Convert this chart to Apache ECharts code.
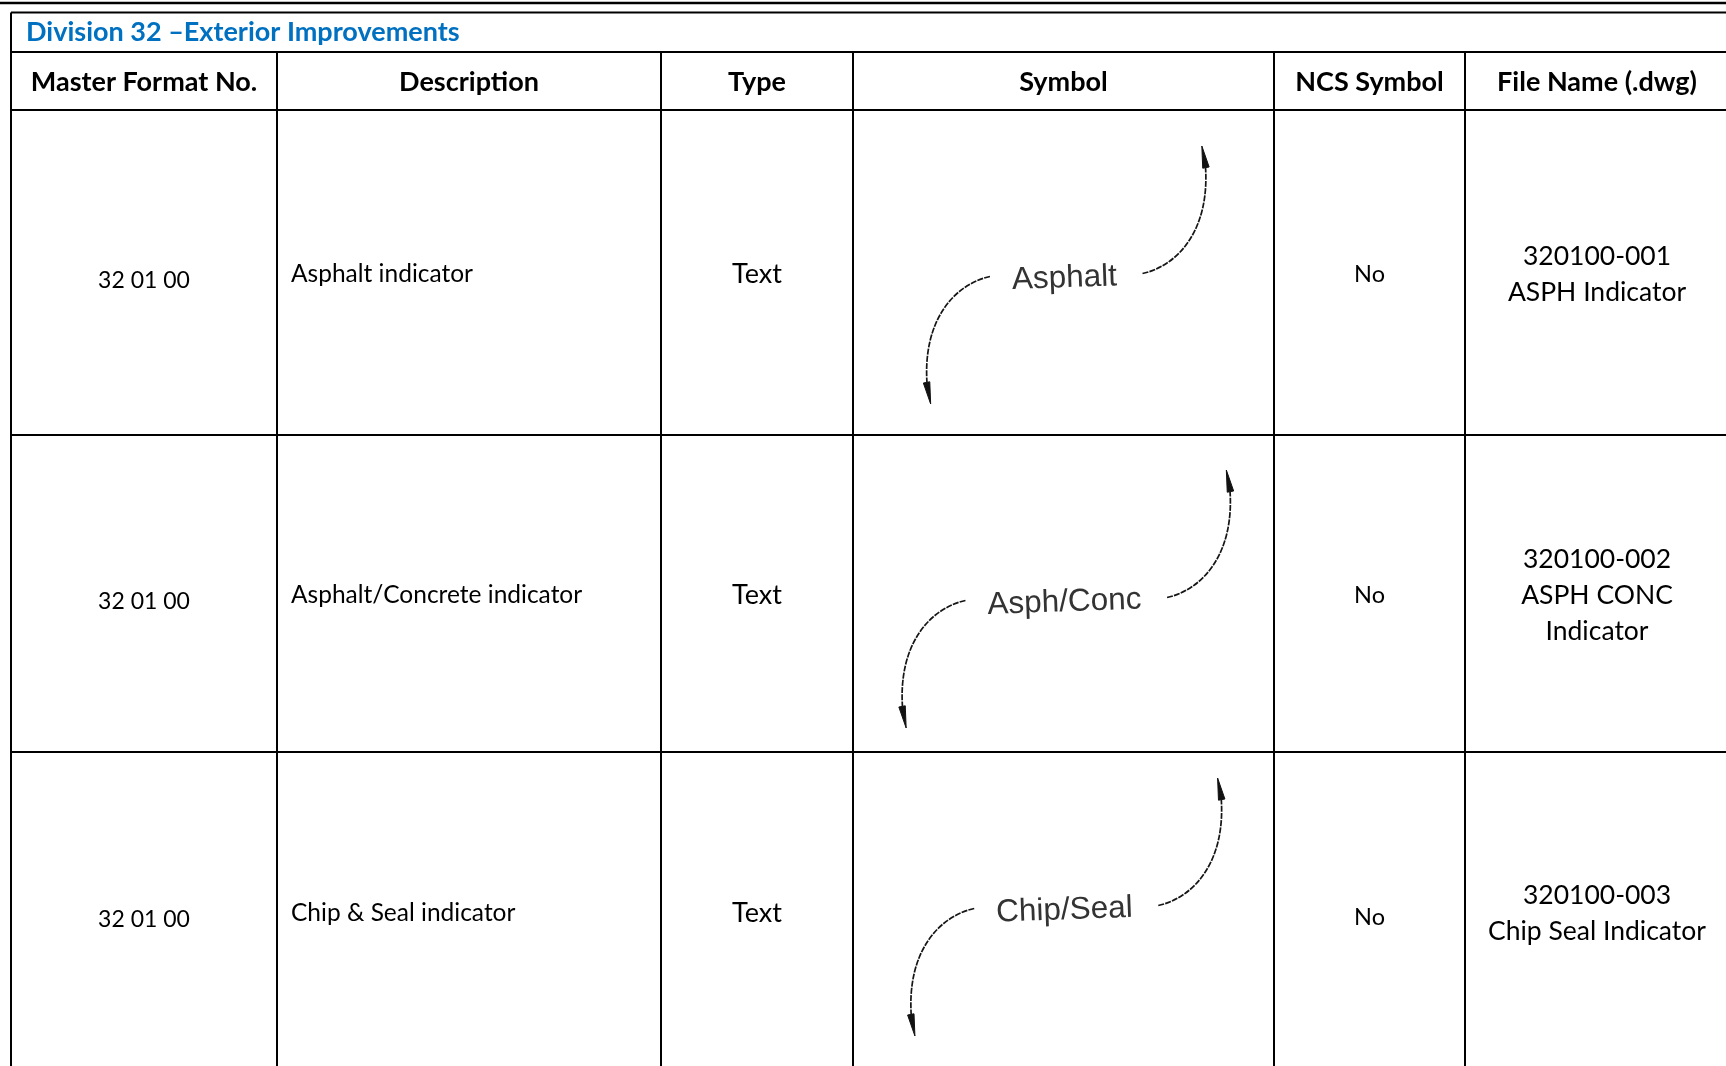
<!DOCTYPE html>
<html><head><meta charset="utf-8">
<script src="https://cdn.jsdelivr.net/npm/echarts@6/dist/echarts.min.js"></script>
<style>html,body{margin:0;padding:0;background:#fff;overflow:hidden}#c{width:1726px;height:1066px}</style>
</head><body><div id="c"></div>
<script>
// ---- table content ----
const title = 'Division 32 –Exterior Improvements';
const headers = ['Master Format No.', 'Description', 'Type', 'Symbol', 'NCS Symbol', 'File Name (.dwg)'];
const masterFormat = ['32 01 00', '32 01 00', '32 01 00'];
const descriptions = ['Asphalt indicator', 'Asphalt/Concrete indicator', 'Chip & Seal indicator'];
const types = ['Text', 'Text', 'Text'];
const symbolLabels = ['Asphalt', 'Asph/Conc', 'Chip/Seal'];
const ncsSymbol = ['No', 'No', 'No'];
const fileNames = [
  ['320100-001', 'ASPH Indicator'],
  ['320100-002', 'ASPH CONC', 'Indicator'],
  ['320100-003', 'Chip Seal Indicator']
];

// ---- layout (pixel units of the hidden axes) ----
const W = 1726, H = 1066;
const colEdges = [11, 277, 661, 853, 1274, 1465, 1729];
const rowEdges = [12.5, 52, 110, 435, 752, 1071];
const SANS = 'Lato, "Open Sans", sans-serif';
const ARIAL = '"Liberation Sans", Arial, sans-serif';
const symOffsetY = [6, 9, -1];

const chart = echarts.init(document.getElementById('c'), null, {renderer: 'canvas'});

// lines of the table
const lines = [];
lines.push([0, 3, W, 3, 2.5]);
lines.push([colEdges[0], rowEdges[0], colEdges[6], rowEdges[0], 2]);
for (let r = 1; r < rowEdges.length - 1; r++) lines.push([colEdges[0], rowEdges[r], colEdges[6], rowEdges[r], 2]);
lines.push([colEdges[0], rowEdges[0], colEdges[0], H + 10, 2]);
for (let c = 1; c < colEdges.length; c++) lines.push([colEdges[c], rowEdges[1], colEdges[c], H + 10, 2]);

// text cells
const cx = c => (colEdges[c] + colEdges[c + 1]) / 2;
const cy = r => (rowEdges[r + 2] + rowEdges[r + 3]) / 2;
const texts = [];
texts.push({x: 26, y: (rowEdges[0] + rowEdges[1]) / 2, text: title, font: 'bold 27px ' + SANS, color: '#0070C0', align: 'left'});
headers.forEach((h, i) => texts.push({x: cx(i), y: (rowEdges[1] + rowEdges[2]) / 2 + 1, text: h, font: 'bold 27px ' + SANS, color: '#000', align: 'center'}));
for (let r = 0; r < 3; r++) {
  texts.push({x: cx(0), y: cy(r) + 8, text: masterFormat[r], font: '23px ' + SANS, color: '#000', align: 'center'});
  texts.push({x: 291, y: cy(r) + 2, text: descriptions[r], font: '24.5px ' + SANS, color: '#000', align: 'left'});
  texts.push({x: cx(2), y: cy(r) + 2, text: types[r], font: '27px ' + SANS, color: '#000', align: 'center'});
  texts.push({x: cx(4), y: cy(r) + (r === 2 ? 6 : 2), text: ncsSymbol[r], font: '23.5px ' + SANS, color: '#000', align: 'center'});
  texts.push({x: cx(5), y: cy(r) + 2, text: fileNames[r].join('\n'), font: '26.5px ' + SANS, color: '#000', align: 'center', lineHeight: 36});
}

// symbol cells
const mctx = document.createElement('canvas').getContext('2d');
const symFont = '31.5px ' + ARIAL;
mctx.font = symFont;
const symbols = symbolLabels.map((s, r) => ({x: cx(3) + 1, y: cy(r) + symOffsetY[r], text: s, hw: mctx.measureText(s).width / 2}));

function arrowShapes(api, ox, oy, sgn) {
  // curve template relative to its start point; sgn=+1 upper-right, -1 lower-left
  const P = (dx, dy) => api.coord([ox + sgn * dx, oy + sgn * dy]);
  const s = P(0, 0), c1 = P(36, -8), c2 = P(67, -44), e = P(63, -106);
  const tip = P(59.3, -127.5), b1 = P(66.6, -106.5), b2 = P(60.2, -105.3);
  return [
    {type: 'bezierCurve', shape: {x1: s[0], y1: s[1], cpx1: c1[0], cpy1: c1[1], cpx2: c2[0], cpy2: c2[1], x2: e[0], y2: e[1]},
     style: {stroke: '#151515', lineWidth: 1.7, fill: null, lineDash: [6, 1.2]}},
    {type: 'polygon', shape: {points: [tip, b1, b2]}, style: {fill: '#111', stroke: '#111', lineWidth: 1}}
  ];
}

const option = {
  animation: false,
  backgroundColor: '#fff',
  grid: {left: 0, right: 0, top: 0, bottom: 0},
  xAxis: {type: 'value', min: 0, max: W, show: false},
  yAxis: {type: 'value', min: 0, max: H, inverse: true, show: false},
  series: [
    {
      type: 'custom', coordinateSystem: 'cartesian2d', silent: true, clip: false,
      encode: {x: [0, 2], y: [1, 3]},
      data: lines,
      renderItem: (params, api) => {
        const a = api.coord([api.value(0), api.value(1)]);
        const b = api.coord([api.value(2), api.value(3)]);
        return {type: 'line', shape: {x1: a[0], y1: a[1], x2: b[0], y2: b[1]}, style: {stroke: '#000', lineWidth: api.value(4)}};
      }
    },
    {
      type: 'custom', coordinateSystem: 'cartesian2d', silent: true, clip: false,
      encode: {x: 0, y: 1},
      data: texts.map(t => [t.x, t.y]),
      renderItem: (params, api) => {
        const t = texts[params.dataIndex];
        const p = api.coord([api.value(0), api.value(1)]);
        return {type: 'text', x: p[0], y: p[1], style: {text: t.text, font: t.font, fill: t.color, align: t.align, verticalAlign: 'middle', lineHeight: t.lineHeight || undefined}};
      }
    },
    {
      type: 'custom', coordinateSystem: 'cartesian2d', silent: true, clip: false,
      encode: {x: 0, y: 1},
      data: symbols.map(s => [s.x, s.y]),
      renderItem: (params, api) => {
        const s = symbols[params.dataIndex];
        const x = api.value(0), y = api.value(1);
        const p = api.coord([x, y]);
        const children = [
          {type: 'text', x: p[0], y: p[1], rotation: 0.035, style: {text: s.text, font: symFont, fill: '#333', align: 'center', verticalAlign: 'middle'}}
        ];
        children.push(...arrowShapes(api, x + s.hw + 25.5, y - 5, 1));
        children.push(...arrowShapes(api, x - s.hw - 22, y - 2, -1));
        return {type: 'group', children};
      }
    }
  ]
};
chart.setOption(option);
</script>
</body></html>
